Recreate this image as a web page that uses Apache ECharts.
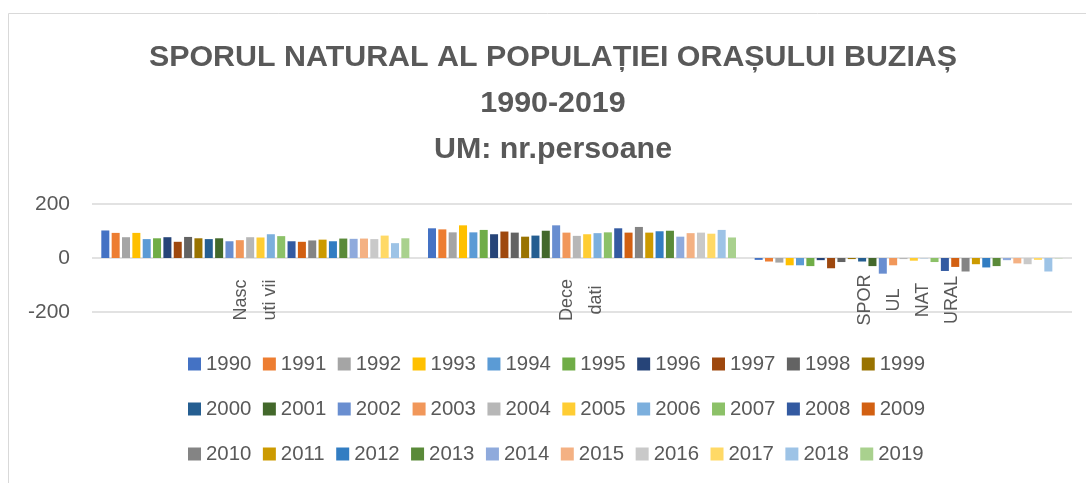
<!DOCTYPE html>
<html>
<head>
<meta charset="utf-8">
<script src="https://cdn.jsdelivr.net/npm/echarts@6/dist/echarts.min.js"></script>
<style>
html,body{margin:0;padding:0;background:#fff;}
#c{width:1086px;height:483px;}
</style>
</head>
<body>
<div id="c"></div>
<script>
const categories = ['Nascuti vii', 'Decedati', 'SPORUL NATURAL'];
const tickLabels = ['Nasc\nuti vii', 'Dece\ndati', 'SPOR\nUL\nNAT\nURAL'];
const years = ['1990','1991','1992','1993','1994','1995','1996','1997','1998','1999',
               '2000','2001','2002','2003','2004','2005','2006','2007','2008','2009',
               '2010','2011','2012','2013','2014','2015','2016','2017','2018','2019'];
const nascuti = [102,93,77,93,70,73,77,60,78,73,70,73,62,66,77,76,88,81,62,60,65,68,62,72,71,72,70,83,55,73];
const decedati = [110,106,95,121,95,104,88,98,94,79,83,101,121,94,82,88,92,95,110,94,115,94,99,101,79,92,94,90,104,76];
const sporul = [-7,-13,-17,-27,-27,-30,-8,-38,-15,-4,-13,-30,-58,-27,-4,-10,-1,-15,-48,-33,-50,-23,-35,-30,-8,-20,-23,-7,-50,-1];
const yTicks = [-200, 0, 200];
const titleLines = ['SPORUL NATURAL AL POPULAȚIEI ORAȘULUI BUZIAȘ', '1990-2019', 'UM: nr.persoane'];
const colors = ['#4472C4','#ED7D31','#A5A5A5','#FFC000','#5B9BD5','#70AD47',
                '#264478','#9E480E','#636363','#997300','#255E91','#43682B',
                '#698ED0','#F1975A','#B7B7B7','#FFCD33','#7CAFDD','#8CC168',
                '#335AA1','#D26012','#848484','#CC9A00','#327DC2','#5A8A39',
                '#8FAADC','#F4B183','#C9C9C9','#FFD966','#9DC3E6','#A9D18E'];

const chart = echarts.init(document.getElementById('c'));
const FONT = '"Liberation Sans", Arial, sans-serif';
const series = years.map((y, i) => ({
  name: y,
  type: 'bar',
  data: [nascuti[i], decedati[i], sporul[i]],
  barGap: '29%',
  barCategoryGap: '5.7%',
  itemStyle: { color: colors[i] },
  emphasis: { disabled: true }
}));
const legendRows = [0, 1, 2].map(r => ({
  data: years.slice(r * 10, r * 10 + 10),
  left: 188,
  top: 352 + r * 45,
  orient: 'horizontal',
  padding: 0,
  itemWidth: 13,
  itemHeight: 13,
  itemGap: 11.5,
  icon: 'rect',
  selectedMode: false,
  textStyle: { fontFamily: FONT, fontSize: 20.4, color: '#595959', lineHeight: 24 }
}));
chart.setOption({
  animation: false,
  color: colors,
  legend: legendRows,
  grid: { left: 92, right: 14, top: 204, height: 108, containLabel: false },
  xAxis: {
    type: 'category',
    data: categories,
    axisLine: { show: false },
    axisTick: { show: false },
    axisLabel: {
      interval: 0,
      rotate: 90,
      align: 'center',
      verticalAlign: 'middle',
      margin: -12,
      fontFamily: FONT,
      fontSize: 18,
      lineHeight: 29,
      color: '#595959',
      formatter: (v, idx) => tickLabels[idx]
    }
  },
  yAxis: {
    type: 'value',
    min: yTicks[0],
    max: yTicks[yTicks.length - 1],
    interval: 200,
    axisLine: { show: false },
    axisTick: { show: false },
    splitLine: { lineStyle: { color: '#D9D9D9', width: 1.5 } },
    axisLabel: { fontFamily: FONT, fontSize: 21, color: '#595959', margin: 22 }
  },
  graphic: [{
    type: 'rect',
    shape: { x: 8.5, y: 13.5, width: 1200, height: 600 },
    style: { fill: 'none', stroke: '#D9D9D9', lineWidth: 1 },
    silent: true,
    z: -10
  }, {
    type: 'text',
    x: 553,
    y: 35,
    silent: true,
    style: {
      text: titleLines.join('\n'),
      align: 'center',
      verticalAlign: 'top',
      fontFamily: FONT,
      fontWeight: 'bold',
      fontSize: 30.4,
      lineHeight: 46,
      fill: '#595959'
    }
  }],
  series: series
});
</script>
</body>
</html>
